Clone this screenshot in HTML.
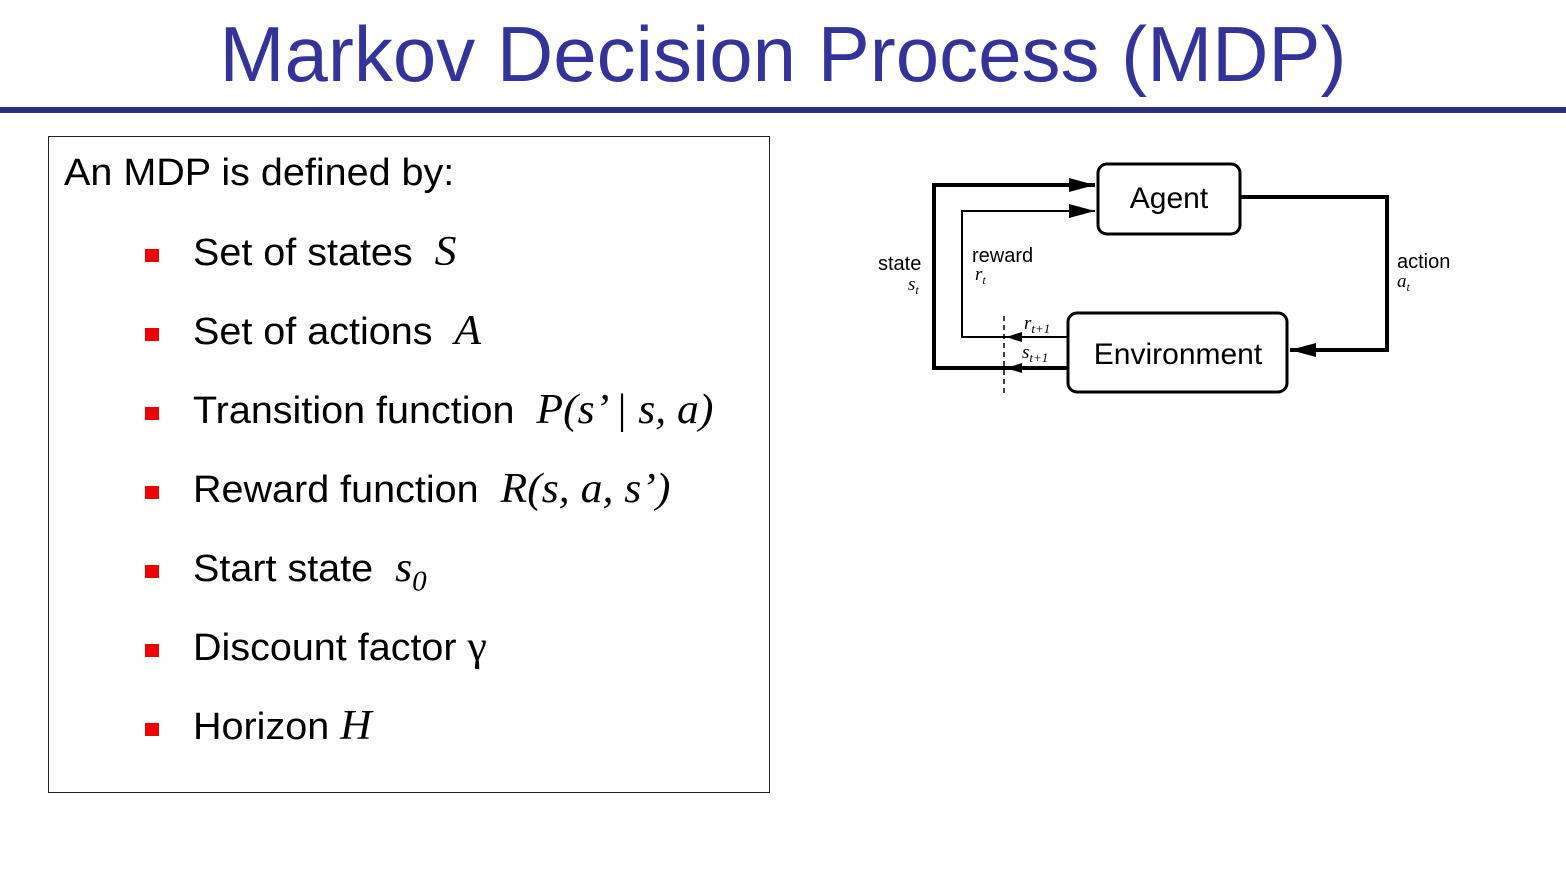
<!DOCTYPE html>
<html><head><meta charset="utf-8"><style>
body{margin:0;width:1566px;height:876px;background:#fff;position:relative;overflow:hidden;font-family:"Liberation Sans",sans-serif}
.t{position:absolute;left:0;width:1566px;top:4px;text-align:center;color:#333399;font-size:78px;line-height:100px}
.t span{display:inline-block;transform:scaleX(1.0);transform-origin:center}
.rule{position:absolute;left:0;top:107px;width:1566px;height:6px;background:#2e2e80}
.box{position:absolute;left:48px;top:136px;width:720px;height:655px;border:1.5px solid #222}
.ln{position:absolute;white-space:nowrap;font-size:38px;line-height:40px;color:#000;transform:scaleX(1.04);transform-origin:left}
.m{font-family:"Liberation Serif",serif;font-style:italic;font-size:42px}
.b{position:absolute;left:145px;width:14px;height:13px;background:#e00}
</style></head><body>
<div class="t"><span>Markov Decision Process (MDP)</span></div>
<div class="rule"></div>
<div class="box"></div>
<div class="ln" style="left:64px;top:153px">An MDP is defined by:</div>

<div class="b" style="top:249px"></div><div class="ln" style="left:193px;top:232px">Set of states &nbsp;<span class="m">S</span></div>
<div class="b" style="top:328px"></div><div class="ln" style="left:193px;top:311px">Set of actions &nbsp;<span class="m">A</span></div>
<div class="b" style="top:407px"></div><div class="ln" style="left:193px;top:390px">Transition function &nbsp;<span class="m">P(s’ | s, a)</span></div>
<div class="b" style="top:486px"></div><div class="ln" style="left:193px;top:469px">Reward function &nbsp;<span class="m">R(s, a, s’)</span></div>
<div class="b" style="top:565px"></div><div class="ln" style="left:193px;top:548px">Start state &nbsp;<span class="m">s<sub style="font-size:28px">0</sub></span></div>
<div class="b" style="top:644px"></div><div class="ln" style="left:193px;top:627px">Discount factor <span class="m" style="font-style:normal">γ</span></div>
<div class="b" style="top:723px"></div><div class="ln" style="left:193px;top:706px">Horizon <span class="m">H</span></div>

<svg style="position:absolute;left:0;top:0" width="1566" height="876">
<defs>
<marker id="A" markerWidth="26" markerHeight="14" refX="26" refY="7" orient="auto" markerUnits="userSpaceOnUse"><path d="M0,0 L26,7 L0,14z" fill="#000"/></marker>
<marker id="s" markerWidth="16" markerHeight="10" refX="16" refY="5" orient="auto" markerUnits="userSpaceOnUse"><path d="M0,0 L16,5 L0,10z" fill="#000"/></marker>
</defs>
<rect x="1098" y="164" width="142" height="70" rx="9" fill="#fff" stroke="#000" stroke-width="3"/>
<rect x="1068" y="313" width="219" height="79" rx="9" fill="#fff" stroke="#000" stroke-width="3"/>
<text x="1169" y="208" font-size="30" text-anchor="middle" font-family="Liberation Sans">Agent</text>
<text x="1178" y="364" font-size="30" text-anchor="middle" font-family="Liberation Sans">Environment</text>
<polyline points="1006,368 934,368 934,185 1095,185" fill="none" stroke="#000" stroke-width="4" marker-end="url(#A)"/>
<line x1="1068" y1="368" x2="1006" y2="368" stroke="#000" stroke-width="4" marker-end="url(#s)"/>
<polyline points="1006,337 962,337 962,211 1095,211" fill="none" stroke="#000" stroke-width="2" marker-end="url(#A)"/>
<line x1="1068" y1="337" x2="1006" y2="337" stroke="#000" stroke-width="2" marker-end="url(#s)"/>
<polyline points="1240,197 1387,197 1387,350 1290,350" fill="none" stroke="#000" stroke-width="4" marker-end="url(#A)"/>
<line x1="1004" y1="316" x2="1004" y2="394" stroke="#000" stroke-width="1.5" stroke-dasharray="5,4"/>
<g font-family="Liberation Sans" font-size="20">
<text x="878" y="270">state</text>
<text x="972" y="262">reward</text>
<text x="1397" y="268">action</text>
</g>
<g font-family="Liberation Serif" font-style="italic" font-size="19">
<text x="908" y="290">s<tspan font-size="12" dy="4">t</tspan></text>
<text x="975" y="280">r<tspan font-size="12" dy="4">t</tspan></text>
<text x="1397" y="287">a<tspan font-size="12" dy="4">t</tspan></text>
<text x="1024" y="329">r<tspan font-size="13" dy="4">t+1</tspan></text>
<text x="1022" y="358">s<tspan font-size="13" dy="4">t+1</tspan></text>
</g>
</svg>
</body></html>
